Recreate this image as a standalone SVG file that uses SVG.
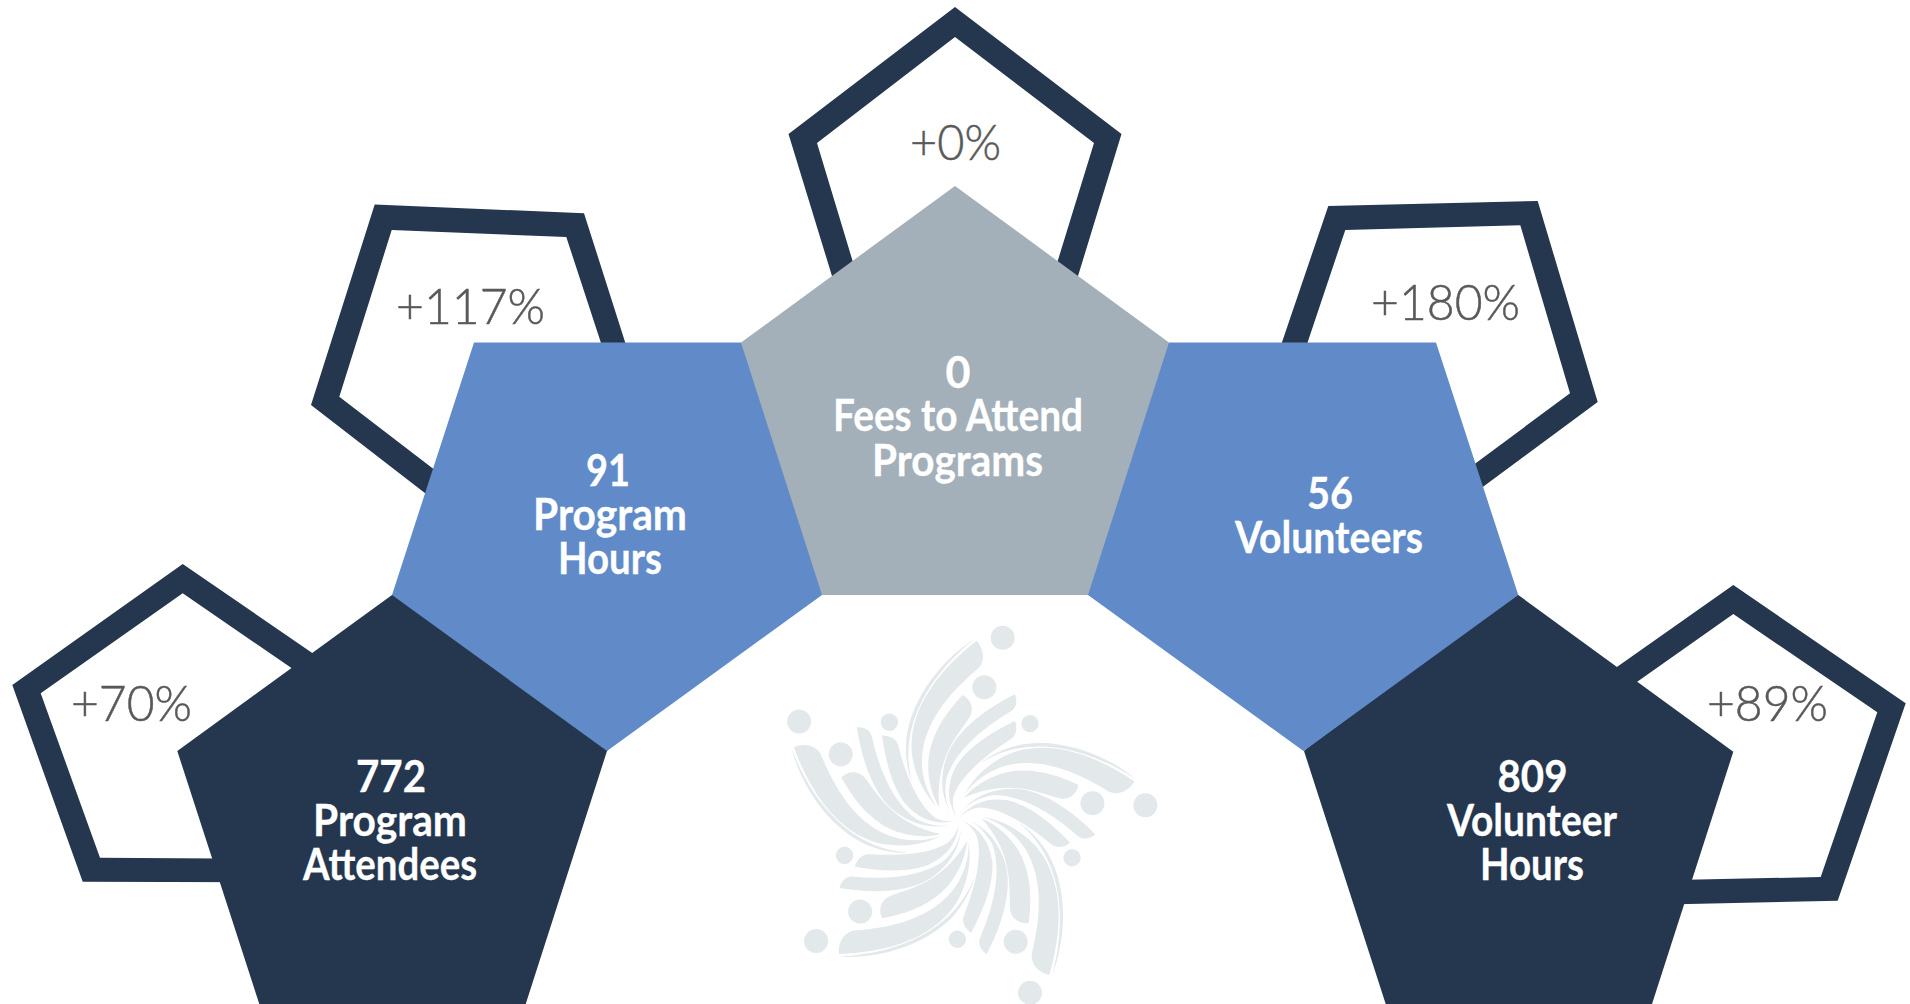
<svg xmlns="http://www.w3.org/2000/svg" xmlns:xlink="http://www.w3.org/1999/xlink" width="1910" height="1004" viewBox="0 0 1910 1004">
<style>
.ring{fill:#25364f;fill-rule:evenodd}
.dark{fill:#25364f}.blue{fill:#608bc8}.grey{fill:#a3afb9}
.lab{font-family:"Lato","Liberation Sans",sans-serif;font-weight:700;font-size:44px;fill:#fff;stroke:#fff;stroke-width:.3px}
.pct{font-family:"Lato","Liberation Sans",sans-serif;font-weight:300;font-size:49px;fill:#595959;stroke:#595959;stroke-width:.5px}
.logo{fill:#e3e8eb}
</style>
<defs>
<g id="arm">
<path d="M592,622C535,565 510,480 515,420C525,300 610,200 710,122C730,145 738,180 715,205C620,285 555,370 546,470C543,525 560,580 592,622Z"/>
<path d="M705,115C590,190 500,320 498,440C497,480 505,520 515,545C505,500 503,470 507,430C520,310 600,200 705,115Z"/>
<path d="M598,622C566,570 558,500 570,450C585,385 625,330 668,285C695,300 705,330 685,358C640,420 585,490 598,622Z"/>
<path d="M638,648C600,590 600,530 620,470C650,390 740,325 825,283C833,305 830,325 808,337C720,390 640,460 618,540C612,585 620,620 638,648Z"/>
<path d="M652,657C618,600 620,550 650,495C690,435 760,395 825,362C833,385 830,408 808,420C730,470 660,530 640,590C636,615 642,640 652,657Z"/>
<circle cx="788" cy="113" r="36"/>
<circle cx="733" cy="262" r="36"/>
<circle cx="870" cy="371" r="26"/>
</g>
</defs>
<rect width="1910" height="1004" fill="#fff"/>
<g id="ring-fees"><path class="ring" d="M955,7L1121.5,134L1057.5,343L852.5,343L788.5,134ZM955,37L817,143L868,312L1042,312L1094,143Z"/><text class="pct" x="910" y="160" textLength="91" lengthAdjust="spacingAndGlyphs">+0%</text></g>
<g id="ring-program-hours"><path class="ring" d="M374.7,204.6L584,213.2L647.6,412.7L476.6,533L311,405ZM391.7,230L339.3,396.7L470,497L618,395L566.3,237Z"/><text class="pct" x="396" y="324" textLength="149" lengthAdjust="spacingAndGlyphs">+117%</text></g>
<g id="ring-volunteers"><path class="ring" d="M1328.3,206L1537.7,201L1597.7,402L1430,526L1259,410ZM1345.3,230L1291.6,390L1430,497L1570,393.3L1520.3,225.3Z"/><text class="pct" x="1371" y="320" textLength="149" lengthAdjust="spacingAndGlyphs">+180%</text></g>
<g id="ring-attendees"><path class="ring" d="M182.7,564L356,683L300,882.3L82.7,881.7L12.3,685ZM182.7,593.3L40.7,693.3L100,857.7L260,858.9L330,694.5Z"/><text class="pct" x="71" y="721" textLength="121" lengthAdjust="spacingAndGlyphs">+70%</text></g>
<g id="ring-volunteer-hours"><path class="ring" d="M1733.3,585L1905.7,703.3L1837.7,900.7L1620,905.5L1570,700ZM1733.3,614L1600,708L1640,880.8L1820.7,877L1877.3,712.3Z"/><text class="pct" x="1707" y="721" textLength="121" lengthAdjust="spacingAndGlyphs">+89%</text></g>
<g id="logo" class="logo" transform="translate(740 600) scale(.33333)">
<use xlink:href="#arm" href="#arm"/>
<use xlink:href="#arm" href="#arm" transform="rotate(72 656 659)"/>
<use xlink:href="#arm" href="#arm" transform="rotate(144 656 659)"/>
<use xlink:href="#arm" href="#arm" transform="rotate(216 656 659)"/>
<use xlink:href="#arm" href="#arm" transform="rotate(288 656 659)"/>
</g>
<g id="node-attendees"><polygon class="dark" points="392,595 395,594 609,749 607,751 525.7,1004 259.3,1004 177.3,751"/>
<text class="lab" x="356" y="792.3" textLength="70" lengthAdjust="spacingAndGlyphs">772</text><text class="lab" x="313" y="836" textLength="154" lengthAdjust="spacingAndGlyphs">Program</text><text class="lab" x="303" y="880" textLength="174" lengthAdjust="spacingAndGlyphs">Attendees</text></g>
<g id="node-volunteer-hours"><polygon class="dark" points="1518.3,595 1733.3,751.7 1652,1004 1385.7,1004 1304,751 1306,749 1515.5,594"/>
<text class="lab" x="1497.5" y="792" textLength="70" lengthAdjust="spacingAndGlyphs">809</text><text class="lab" x="1447" y="836" textLength="170" lengthAdjust="spacingAndGlyphs">Volunteer</text><text class="lab" x="1480" y="880" textLength="104" lengthAdjust="spacingAndGlyphs">Hours</text></g>
<g id="node-program-hours"><polygon class="blue" points="474,342.5 741,342.5 744,345 824,594 822,595 607,751 392,595"/>
<text class="lab" x="586" y="486" textLength="44" lengthAdjust="spacingAndGlyphs">91</text><text class="lab" x="533" y="530" textLength="154" lengthAdjust="spacingAndGlyphs">Program</text><text class="lab" x="558" y="574" textLength="104" lengthAdjust="spacingAndGlyphs">Hours</text></g>
<g id="node-volunteers"><polygon class="blue" points="1169,342.5 1436,342.5 1518.3,595 1303.5,751 1088,595 1086,594 1166,345"/>
<text class="lab" x="1307" y="509" textLength="46" lengthAdjust="spacingAndGlyphs">56</text><text class="lab" x="1235" y="553" textLength="188" lengthAdjust="spacingAndGlyphs">Volunteers</text></g>
<g id="node-fees"><polygon class="grey" points="955,186 1169,342.5 1088,595 822,595 741,342.5"/>
<text class="lab" x="945.5" y="388" textLength="25" lengthAdjust="spacingAndGlyphs">0</text><text class="lab" x="833" y="431" textLength="250" lengthAdjust="spacingAndGlyphs">Fees to Attend</text><text class="lab" x="872" y="476" textLength="171" lengthAdjust="spacingAndGlyphs">Programs</text></g>
</svg>
